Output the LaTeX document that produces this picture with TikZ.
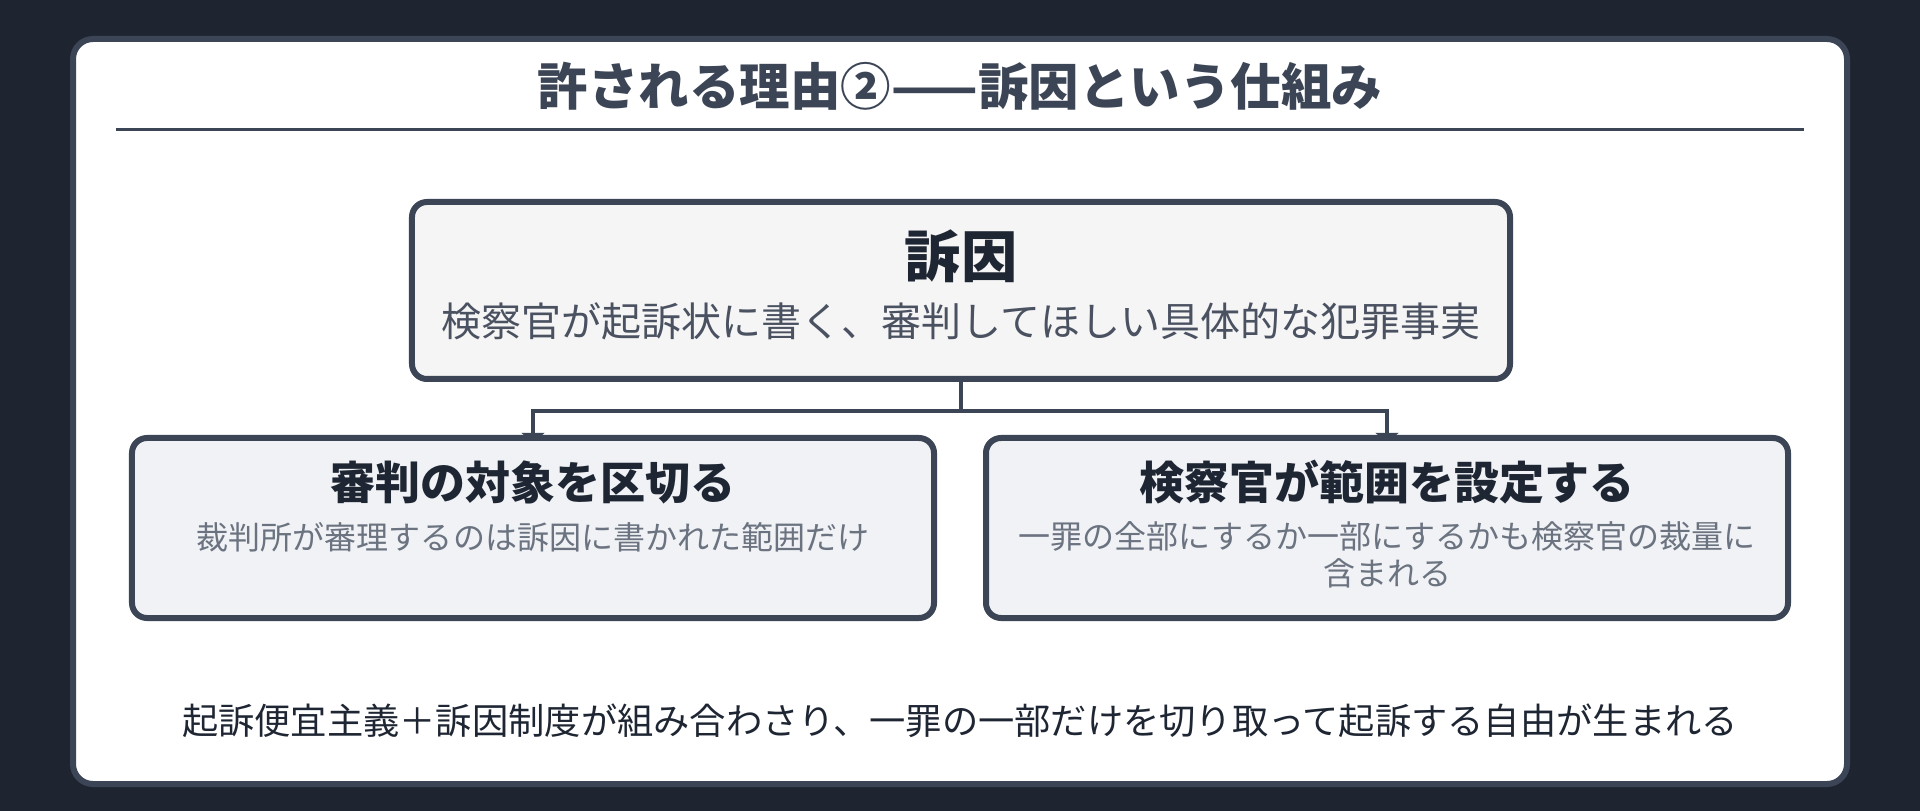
\documentclass[tikz,border=0pt]{standalone}
\usepackage{fontspec}
\setmainfont{Noto Sans CJK JP}
\usetikzlibrary{arrows.meta,calc}
\definecolor{pagebg}{HTML}{1E2530}
\definecolor{edge}{HTML}{3B4555}
\definecolor{ink}{HTML}{1F2633}
\definecolor{softink}{HTML}{4A5160}
\definecolor{greyink}{HTML}{6B7380}
\definecolor{topfill}{HTML}{F5F5F5}
\definecolor{subfill}{HTML}{F0F2F5}
\pgfdeclarelayer{cardlayer}
\pgfdeclarelayer{linklayer}
\pgfsetlayers{cardlayer,linklayer,main}
\begin{document}
\begin{tikzpicture}[x=0.4pt,y=-0.4pt,line join=round,>={Latex[length=4.8pt,width=10pt]},
  box/.style={draw=edge,line width=2.4pt,rounded corners=6pt,inner sep=0pt},
  link/.style={draw=edge,line width=1.6pt}]
\useasboundingbox(0,0)rectangle(1920,811);
\begin{pgfonlayer}{cardlayer}
\fill[pagebg](0,0)rectangle(1920,811);
\filldraw[draw=edge,fill=white,line width=2.4pt,rounded corners=8pt](73,39)rectangle(1847,784);
\end{pgfonlayer}
\node[text=edge,font=\fontsize{20.2pt}{24pt}\selectfont\bfseries](title) at (960,86) {許される理由②——訴因という仕組み};
\draw[edge,line width=1.2pt](116,130)--(1804,130);

\node[box,fill=topfill,minimum width=439.2pt,minimum height=70.8pt](cause) at (961,290.5) {};
\node[text=ink,font=\fontsize{22.5pt}{26pt}\selectfont\bfseries](causehead) at (961,256) {訴因};
\node[text=softink,font=\fontsize{16pt}{19pt}\selectfont](causetext) at (961,321) {検察官が起訴状に書く、審判してほしい具体的な犯罪事実};

\node[box,fill=subfill,minimum width=320.8pt,minimum height=72pt](scope) at (533,528) {};
\node[text=ink,font=\fontsize{18pt}{21pt}\selectfont\bfseries](scopehead) at (533,482) {審判の対象を区切る};
\node[text=greyink,font=\fontsize{12.8pt}{15pt}\selectfont](scopetext) at (533,537) {裁判所が審理するのは訴因に書かれた範囲だけ};

\node[box,fill=subfill,minimum width=320.8pt,minimum height=72pt](range) at (1387,528) {};
\node[text=ink,font=\fontsize{18pt}{21pt}\selectfont\bfseries](rangehead) at (1387,482) {検察官が範囲を設定する};
\node[text=greyink,font=\fontsize{12.8pt}{14.6pt}\selectfont,align=center](rangetext) at (1387,555) {一罪の全部にするか一部にするかも検察官の裁量に\\含まれる};

\node[text=ink,font=\fontsize{14.5pt}{17pt}\selectfont](summary) at (960,721) {起訴便宜主義＋訴因制度が組み合わさり、一罪の一部だけを切り取って起訴する自由が生まれる};

\begin{pgfonlayer}{linklayer}
\coordinate (split) at ($(cause.south)+(0,29)$);
\draw[link](cause.south)--(split);
\draw[link,->,shorten >=-4pt](split)-|(scope.north);
\draw[link,->,shorten >=-4pt](split)-|(range.north);
\end{pgfonlayer}
\end{tikzpicture}
\end{document}
